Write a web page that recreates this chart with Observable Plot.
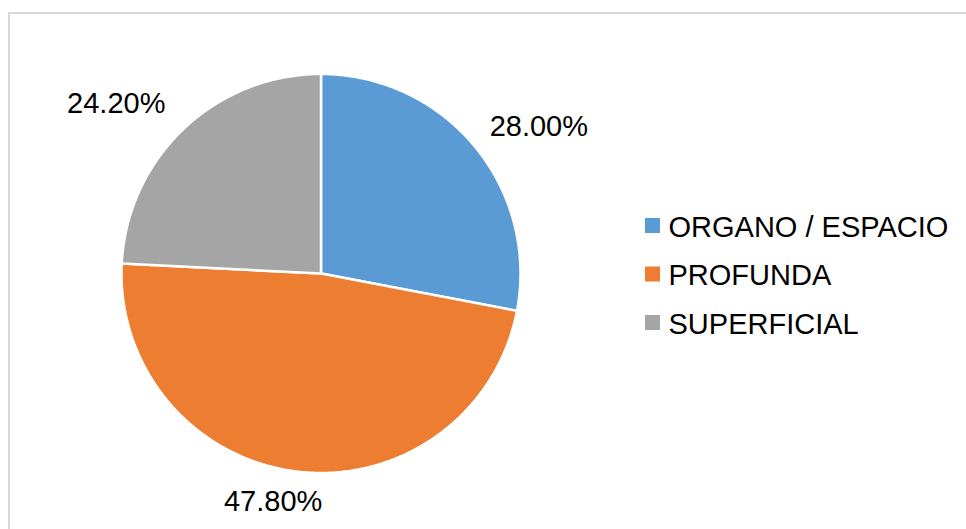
<!DOCTYPE html>
<html>
<head>
<meta charset="utf-8">
<script src="https://cdn.jsdelivr.net/npm/d3@7"></script>
<script src="https://cdn.jsdelivr.net/npm/@observablehq/plot@0.6"></script>
<style>
  html, body { margin: 0; padding: 0; background: #fff; }
  #wrap { position: relative; width: 966px; height: 529px; overflow: hidden; }
  #frame { position: absolute; left: 8px; top: 12px; width: 1000px; height: 1000px;
           border: 2px solid #d9d9d9; box-sizing: border-box; pointer-events: none; }
  #chart { position: absolute; left: 0; top: 0; }
</style>
</head>
<body>
<div id="wrap"><div id="chart"></div><div id="frame"></div></div>
<script>
// ---- data ----
const categories = ["ORGANO / ESPACIO", "PROFUNDA", "SUPERFICIAL"];
const percents = [28.0, 47.8, 24.2];
const valueLabels = ["28.00%", "47.80%", "24.20%"];
const colors = ["#5B9BD5", "#ED7D31", "#A5A5A5"];

// ---- layout ----
const W = 966, H = 529;
const cx = 320.5, cy = 273, R = 199.5;
const labelRadius = R * 1.3;
const labelNudge = [[18, 19], [-17, -29], [-26, 18]];
const legendX = 645, legendTop = 218, legendStep = 48.5, sq = 15;
const font = "'Liberation Sans', Arial, sans-serif";

const arcs = d3.pie().sort(null).value(d => d)(percents);

// sector polygons sampled along each arc
const sectorPts = [];
arcs.forEach((a, i) => {
  const cat = categories[i];
  sectorPts.push({cat, x: cx, y: cy});
  const n = Math.max(2, Math.ceil((a.endAngle - a.startAngle) / (Math.PI / 360)));
  for (let k = 0; k <= n; k++) {
    const t = a.startAngle + (a.endAngle - a.startAngle) * k / n;
    sectorPts.push({cat, x: cx + R * Math.sin(t), y: cy - R * Math.cos(t)});
  }
  sectorPts.push({cat, x: cx, y: cy});
});

const labelData = arcs.map((a, i) => {
  const m = (a.startAngle + a.endAngle) / 2;
  return {
    text: valueLabels[i],
    x: cx + labelRadius * Math.sin(m) + labelNudge[i][0],
    y: cy - labelRadius * Math.cos(m) + labelNudge[i][1]
  };
});

const legendData = categories.map((c, i) => ({
  cat: c,
  x1: legendX, x2: legendX + sq,
  y1: legendTop + i * legendStep, y2: legendTop + i * legendStep + sq,
  tx: legendX + sq + 8, ty: legendTop + i * legendStep + sq / 2 + 1.5
}));

const chart = Plot.plot({
  width: W, height: H,
  marginTop: 0, marginRight: 0, marginBottom: 0, marginLeft: 0,
  x: {domain: [0, W], range: [0, W], axis: null},
  y: {domain: [0, H], range: [0, H], axis: null},
  color: {domain: categories, range: colors},
  style: {fontFamily: font, background: "transparent"},
  marks: [
    Plot.line(sectorPts, {x: "x", y: "y", z: "cat", fill: "cat", stroke: "#fff",
      strokeWidth: 2.5, strokeLinejoin: "round", curve: "linear"}),
    Plot.text(labelData, {x: "x", y: "y", text: "text", fontSize: 29, fill: "#000",
      textAnchor: "middle", lineAnchor: "middle", fontFamily: font}),
    Plot.rect(legendData, {x1: "x1", x2: "x2", y1: "y1", y2: "y2", fill: "cat"}),
    Plot.text(legendData, {x: "tx", y: "ty", text: "cat", fontSize: 29, fill: "#000",
      textAnchor: "start", lineAnchor: "middle", fontFamily: font})
  ]
});
document.getElementById("chart").appendChild(chart);
</script>
</body>
</html>
